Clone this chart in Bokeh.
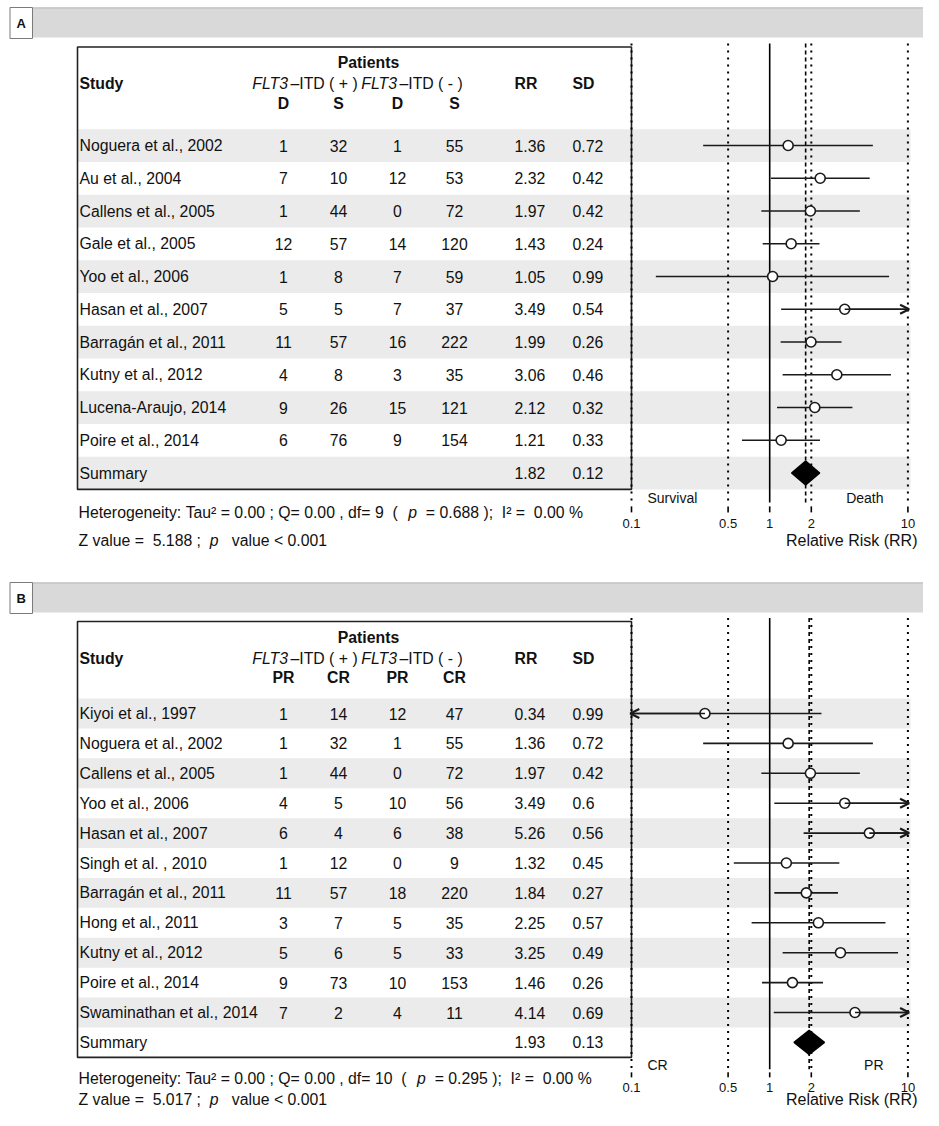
from bokeh.plotting import figure
from bokeh.models import Range1d, LogScale, ColumnDataSource, Arrow, OpenHead
from bokeh.core.properties import value
from bokeh.embed import file_html
from bokeh.resources import INLINE

FONT = "Liberation Sans"
FS = 15.8
NB = "\u00a0"

# ---------------- Panel A data ----------------
studies_a = ["Noguera et al., 2002", "Au et al., 2004", "Callens et al., 2005", "Gale et al., 2005",
             "Yoo et al., 2006", "Hasan et al., 2007", "Barragán et al., 2011", "Kutny et al., 2012",
             "Lucena-Araujo, 2014", "Poire et al., 2014"]
pos_d_a = [1, 7, 1, 12, 1, 5, 11, 4, 9, 6]
pos_s_a = [32, 10, 44, 57, 8, 5, 57, 8, 26, 76]
neg_d_a = [1, 12, 0, 14, 7, 7, 16, 3, 15, 9]
neg_s_a = [55, 53, 72, 120, 59, 37, 222, 35, 121, 154]
rr_a = [1.36, 2.32, 1.97, 1.43, 1.05, 3.49, 1.99, 3.06, 2.12, 1.21]
sd_a = [0.72, 0.42, 0.42, 0.24, 0.99, 0.54, 0.26, 0.46, 0.32, 0.33]
lo_a = [0.33, 1.02, 0.87, 0.89, 0.15, 1.21, 1.20, 1.24, 1.13, 0.63]
hi_a = [5.58, 5.29, 4.49, 2.29, 7.31, 10.06, 3.31, 7.54, 3.97, 2.31]
sum_a = {"rr": 1.82, "sd": 0.12, "lo": 1.44, "hi": 2.30}
sub_a = ["D", "S", "D", "S"]
het_a = [("Heterogeneity: Tau² = 0.00 ; Q= 0.00 , df= 9  (  ", "normal"), ("p", "italic"),
         ("  = 0.688 );  I² =  0.00 %", "normal")]
z_a = [("Z value =  5.188 ;  ", "normal"), ("p", "italic"), ("   value < 0.001", "normal")]
side_a = ["Survival", "Death"]

# ---------------- Panel B data ----------------
studies_b = ["Kiyoi et al., 1997", "Noguera et al., 2002", "Callens et al., 2005", "Yoo et al., 2006",
             "Hasan et al., 2007", "Singh et al. , 2010", "Barragán et al., 2011", "Hong et al., 2011",
             "Kutny et al., 2012", "Poire et al., 2014", "Swaminathan et al., 2014"]
pos_pr_b = [1, 1, 1, 4, 6, 1, 11, 3, 5, 9, 7]
pos_cr_b = [14, 32, 44, 5, 4, 12, 57, 7, 6, 73, 2]
neg_pr_b = [12, 1, 0, 10, 6, 0, 18, 5, 5, 10, 4]
neg_cr_b = [47, 55, 72, 56, 38, 9, 220, 35, 33, 153, 11]
rr_b = [0.34, 1.36, 1.97, 3.49, 5.26, 1.32, 1.84, 2.25, 3.25, 1.46, 4.14]
sd_b = [0.99, 0.72, 0.42, 0.6, 0.56, 0.45, 0.27, 0.57, 0.49, 0.26, 0.69]
lo_b = [0.05, 0.33, 0.87, 1.08, 1.76, 0.55, 1.08, 0.74, 1.24, 0.88, 1.07]
hi_b = [2.37, 5.58, 4.49, 11.31, 15.76, 3.19, 3.12, 6.88, 8.49, 2.43, 16.01]
sum_b = {"rr": 1.93, "sd": 0.13, "lo": 1.50, "hi": 2.49}
sub_b = ["PR", "CR", "PR", "CR"]
het_b = [("Heterogeneity: Tau² = 0.00 ; Q= 0.00 , df= 10  (  ", "normal"), ("p", "italic"),
         ("  = 0.295 );  I² =  0.00 %", "normal")]
z_b = [("Z value =  5.017 ;  ", "normal"), ("p", "italic"), ("   value < 0.001", "normal")]
side_b = ["CR", "PR"]

ticks = [0.1, 0.5, 1, 2, 10]
tick_labels = ["0.1", "0.5", "1", "2", "10"]
dotted_refs = [0.1, 0.5, 2, 10]
RR_MIN, RR_MAX = 0.1, 10

# ---------------- layout ----------------
W, H = 923, 1110
X_ONE, DEC = 769.2, 138.2


def px_to_rr(px):
    return 10 ** ((px - X_ONE) / DEC)


CW = {' ': 278, NB: 278, '(': 333, ')': 333, '+': 584, ',': 278, '-': 333, '.': 278, ':': 278,
      ';': 278, '<': 584, '=': 584, '%': 889, '²': 333, '–': 556, 'I': 278, 'Q': 778, 'T': 611,
      'Z': 611, 'H': 722, 'a': 556, 'd': 556, 'e': 556, 'f': 278, 'g': 556, 'i': 222, 'l': 222,
      'n': 556, 'o': 556, 'p': 556, 'r': 333, 't': 278, 'u': 556, 'v': 500, 'y': 500}


def tw(s, size):
    return size * sum(CW.get(c, 556) for c in s) / 1000.0


p = figure(width=W, height=H, x_range=Range1d(0, W), y_range=Range1d(H, 0),
           output_backend="svg", toolbar_location=None, x_axis_type=None, y_axis_type=None,
           min_border=0)
p.extra_x_ranges = {"rr": Range1d(px_to_rr(0), px_to_rr(W))}
p.extra_x_scales = {"rr": LogScale()}
p.outline_line_color = None
p.background_fill_color = "white"


def txt(x, y, t, size=FS, style="normal", align="left", color="#111111", rng=None):
    kw = {}
    if rng:
        kw["x_range_name"] = rng
    p.text(x=x, y=y, text=t, text_font=value(FONT), text_font_size=value(f"{size}px"),
           text_font_style=value(style), text_align=value(align), text_baseline=value("middle"),
           text_color=color, **kw)


def parts(x0, y, segs, size=FS):
    x = x0
    for s, st in segs:
        s = s.replace(" ", NB)
        txt([x], [y], [s], size=size, style=st)
        x += tw(s, size)


TL, TR = 77, 631          # table box
BAND_R = 910
COLS = [283, 338, 397, 454]
RR_X, SD_X = 514, 572


def panel(label, g, studies, c1, c2, c3, c4, subs, rr, sd, lo, hi, summ, het, zl, side):
    n = len(studies) + 1
    ys = [g["row0"] + i * g["rowh"] for i in range(n)]
    bottom = g["row0"] + (n - 0.5) * g["rowh"]
    off = g["below"]
    vtop, vbot = g["top"] - 3.5, bottom + off[1]

    # header band + label box
    b0, b1 = g["band"]
    p.quad(left=[32], right=[W + 5], top=[b0], bottom=[b1], fill_color="#d9d9d9", line_color=None)
    p.segment(x0=[32], x1=[W + 5], y0=[b0 + 0.5], y1=[b0 + 0.5], line_color="#c4c4c4", line_width=1.5)
    p.quad(left=[9.5], right=[32], top=[b0], bottom=[b1 + 1], fill_color="white", line_color="#7a7a7a",
           line_width=1)
    txt([20.8], [(b0 + b1) / 2 + 1], [label], size=13, style="bold", align="center")

    # row bands
    shade = [i for i in range(n) if i % 2 == 0]
    p.quad(left=[TL] * len(shade), right=[BAND_R] * len(shade),
           top=[ys[i] - g["rowh"] / 2 for i in shade], bottom=[ys[i] + g["rowh"] / 2 for i in shade],
           fill_color="#ebebeb", line_color=None)

    # table box
    p.quad(left=[TL], right=[TR], top=[g["top"]], bottom=[bottom], fill_color=None,
           line_color="#222222", line_width=1.6)

    # headers
    txt([368], [g["pat"]], ["Patients"], style="bold", align="center")
    txt([79], [g["head"]], ["Study"], style="bold")
    txt([287.5, 396.5], [g["head"]] * 2, ["FLT3", "FLT3"], style="italic", align="right")
    txt([290, 399], [g["head"]] * 2, ["–ITD ( + )", "–ITD ( - )"])
    txt([RR_X, SD_X], [g["head"]] * 2, ["RR", "SD"], style="bold")
    txt(COLS, [g["sub"]] * 4, subs, style="bold", align="center")

    # body
    txt([79] * n, ys, studies + ["Summary"])
    for xc, col in zip(COLS, [c1, c2, c3, c4]):
        txt([xc] * (n - 1), ys[:-1], [str(v) for v in col], align="center")
    txt([RR_X] * n, ys, [f"{v:.2f}" for v in rr + [summ["rr"]]])
    txt([SD_X] * n, ys, [str(v) for v in sd + [summ["sd"]]])

    # reference lines
    m = len(dotted_refs)
    p.segment(x0=dotted_refs, x1=dotted_refs, y0=[vtop] * m, y1=[vbot] * m, x_range_name="rr",
              line_color="black", line_width=2, line_dash="2 5")
    p.segment(x0=[1], x1=[1], y0=[vtop], y1=[vbot], x_range_name="rr", line_color="black", line_width=1.6)
    p.segment(x0=[summ["rr"]], x1=[summ["rr"]], y0=[vtop], y1=[vbot], x_range_name="rr",
              line_color="black", line_width=1.6, line_dash="4 3")
    k = len(ticks)
    p.segment(x0=ticks, x1=ticks, y0=[bottom + off[2]] * k, y1=[bottom + off[3]] * k, x_range_name="rr",
              line_color="black", line_width=1.6)

    # confidence intervals
    y_st = ys[:-1]
    x0 = [max(v, RR_MIN) for v in lo]
    x1 = [min(v, RR_MAX) for v in hi]
    p.segment(x0=x0, x1=x1, y0=y_st, y1=y_st, x_range_name="rr", line_color="#1a1a1a", line_width=1.6)
    ax0, ax1, ay = [], [], []
    for r, l, h, y in zip(rr, lo, hi, y_st):
        if h > RR_MAX:
            ax0.append(r); ax1.append(RR_MAX * 1.02); ay.append(y)
        if l < RR_MIN:
            ax0.append(r); ax1.append(RR_MIN * 0.98); ay.append(y)
    if ax0:
        src = ColumnDataSource(dict(xs=ax0, xe=ax1, y=ay))
        p.add_layout(Arrow(x_start="xs", x_end="xe", y_start="y", y_end="y", source=src,
                           x_range_name="rr", line_color="#1a1a1a", line_width=1.6,
                           end=OpenHead(size=9, line_width=2.2, line_color="#1a1a1a")))
    p.scatter(x=rr, y=y_st, x_range_name="rr", marker="circle", size=10, fill_color="white",
              line_color="#1a1a1a", line_width=1.6)

    # summary diamond
    ysm = ys[-1]
    p.patch(x=[summ["lo"], summ["rr"], summ["hi"], summ["rr"]], y=[ysm, ysm - 12, ysm, ysm + 12],
            x_range_name="rr", fill_color="black", line_color="black", line_width=1.5)

    # axis texts
    txt(ticks, [bottom + off[4]] * k, tick_labels, size=13, align="center", rng="rr")
    txt([647], [bottom + off[0]], [side[0]], size=14)
    txt([883], [bottom + off[0]], [side[1]], size=14, align="right")
    zy = bottom + off[6]
    txt([917], [zy], ["Relative Risk (RR)"], size=16, align="right")

    # statistics
    parts(78, bottom + off[5], het)
    parts(78, zy, zl)


# below-table offsets: side labels, line end, tick top, tick bottom, tick labels, heterogeneity, z line
GA = dict(band=(7, 37), top=46.5, pat=62, head=82.5, sub=102.5, row0=145, rowh=32.75,
          below=(9, 13, 17, 23, 34, 23, 51))
GB = dict(band=(582, 612), top=621, pat=637, head=657.5, sub=677, row0=713, rowh=29.9,
          below=(8, 12, 15, 20, 30, 21, 42))

panel("A", GA, studies_a, pos_d_a, pos_s_a, neg_d_a, neg_s_a, sub_a, rr_a, sd_a, lo_a, hi_a, sum_a,
      het_a, z_a, side_a)
panel("B", GB, studies_b, pos_pr_b, pos_cr_b, neg_pr_b, neg_cr_b, sub_b, rr_b, sd_b, lo_b, hi_b, sum_b,
      het_b, z_b, side_b)

open("out.html", "w").write(file_html(p, INLINE))
